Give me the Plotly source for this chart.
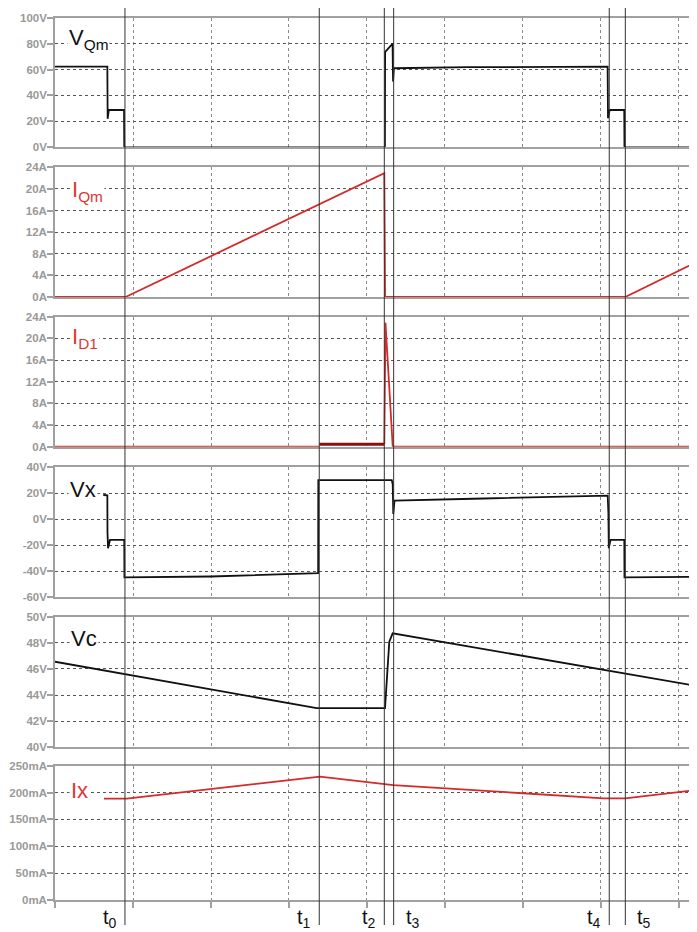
import plotly.graph_objects as go

# The page body has an 8px margin, so the figure is drawn 8px right/down.
OFF = 8
W, H = 697 - OFF, 932 - OFF
ML = 55 - OFF  # left margin in px (figure coords)

# ---------------- data (time in grid divisions) ----------------
X_RANGE = [0, 8.231]

MARK_T = [0.897, 3.388, 4.222, 4.342, 7.106, 7.312]
MARK_LABELS = ["t<sub>0</sub>", "t<sub>1</sub>", "t<sub>2</sub>",
               "t<sub>3</sub>", "t<sub>4</sub>", "t<sub>5</sub>"]
MARK_SIDE = ["left", "left", "left", "right", "left", "right"]

VQM_T = [0, 0.671, 0.675, 0.690, 0.885, 0.888, 4.230, 4.232, 4.322, 4.328,
         4.334, 4.345, 5.30, 7.085, 7.090, 7.112, 7.298, 7.301, 8.231]
VQM_V = [62.2, 62.2, 22.0, 28.8, 28.8, 0, 0, 73.5, 79.5, 79.5,
         50.7, 61.0, 61.8, 62.2, 22.5, 28.8, 28.8, 0, 0]

IQM_T = [0, 0.905, 4.222, 4.232, 7.311, 8.231]
IQM_A = [0, 0, 22.9, 0, 0, 6.5]

ID1_T = [0, 3.388, None, 4.222, 4.237, 4.330, 4.340, 8.231]
ID1_A = [0, 0, None, 0.45, 22.9, 0, 0, 0]
ID1_COND_T = [3.388, 4.222]   # conduction interval t1..t2
ID1_COND_A = [0.45, 0.45]

VX_T = [0.619, 0.671, 0.673, 0.680, 0.705, 0.888, 0.890, 2.0, 3.374, 3.376,
        4.317, 4.330, 4.337, 4.353, 5.5, 7.086, 7.095, 7.100, 7.122, 7.299,
        7.301, 8.231]
VX_V = [18.7, 18.5, -10.0, -22.3, -15.9, -15.9, -44.6, -44.0, -41.5, 30.2,
        30.2, 27.0, 4.0, 14.3, 16.0, 18.2, 5.0, -22.3, -15.9, -15.9,
        -44.6, -44.3]

VC_T = [0, 3.355, 4.231, 4.286, 4.329, 7.086, 8.231]
VC_V = [46.55, 43.0, 43.0, 48.09, 48.73, 45.87, 44.69]

IX_T = [0.628, 0.919, 3.397, 4.222, 4.337, 6.0, 7.03, 7.311, 8.231]
IX_MA = [188.6, 188.6, 229.6, 215.4, 214.0, 198.7, 189.2, 189.2, 204.8]

# tick values / labels per panel
VQM_TICKS = [0, 20, 40, 60, 80, 100]
VQM_TICKTEXT = ["0V", "20V", "40V", "60V", "80V", "100V"]
I_TICKS = [0, 4, 8, 12, 16, 20, 24]
I_TICKTEXT = ["0A", "4A", "8A", "12A", "16A", "20A", "24A"]
VX_TICKS = [-60, -40, -20, 0, 20, 40]
VX_TICKTEXT = ["-60V", "-40V", "-20V", "0V", "20V", "40V"]
VC_TICKS = [40, 42, 44, 46, 48, 50]
VC_TICKTEXT = ["40V", "42V", "44V", "46V", "48V", "50V"]
IX_TICKS = [0, 50, 100, 150, 200, 250]
IX_TICKTEXT = ["0mA", "50mA", "100mA", "150mA", "200mA", "250mA"]

# ---------------- styles ----------------
BLACK = "#111111"
RED = "#d42a2a"
DARKRED = "#8a1010"
LABEL_RED = "#e03535"
FRAME = "#a0a0a0"
HGRID = "#555555"
VGRID = "#8a8a8a"
TICKCOL = "#999999"
FONT = "Liberation Sans"

# panel pixel extents (top, bottom) in reference-image pixels
PANELS = [
    dict(top=17.7, bot=147.3, rng=[0, 100], tv=VQM_TICKS, tt=VQM_TICKTEXT,
         label="V<sub>Qm</sub>", lcol=BLACK, lx=67, ly=38.5),
    dict(top=167.3, bot=297.0, rng=[0, 24], tv=I_TICKS, tt=I_TICKTEXT,
         label="I<sub>Qm</sub>", lcol=LABEL_RED, lx=70, ly=190.5),
    dict(top=316.7, bot=446.7, rng=[0, 24], tv=I_TICKS, tt=I_TICKTEXT,
         label="I<sub>D1</sub>", lcol=LABEL_RED, lx=70, ly=337.5),
    dict(top=467.3, bot=597.3, rng=[-60, 40], tv=VX_TICKS, tt=VX_TICKTEXT,
         label="Vx", lcol=BLACK, lx=68, ly=489),
    dict(top=616.7, bot=747.3, rng=[40, 50], tv=VC_TICKS, tt=VC_TICKTEXT,
         label="Vc", lcol=BLACK, lx=69, ly=638),
    dict(top=765.7, bot=900.0, rng=[0, 250], tv=IX_TICKS, tt=IX_TICKTEXT,
         label="Ix", lcol=LABEL_RED, lx=69, ly=790),
]

def py(px):
    """reference-image y pixel -> paper y"""
    return 1 - (px - OFF) / H

def pxx(px):
    """reference-image x pixel -> paper x"""
    return (px - OFF - ML) / (W - ML)

fig = go.Figure()

def add(xs, ys, row, color, width=1.8):
    sfx = "" if row == 1 else str(row)
    fig.add_trace(go.Scatter(x=xs, y=ys, mode="lines",
                             line=dict(color=color, width=width),
                             xaxis="x" + sfx, yaxis="y" + sfx,
                             hoverinfo="skip", showlegend=False,
                             connectgaps=False))

add(VQM_T, VQM_V, 1, BLACK)
add(IQM_T, IQM_A, 2, RED)
add(ID1_T, ID1_A, 3, RED)
add(ID1_COND_T, ID1_COND_A, 3, DARKRED, 3)
add(VX_T, VX_V, 4, BLACK)
add(VC_T, VC_V, 5, BLACK)
add(IX_T, IX_MA, 6, RED)

layout = dict(width=W, height=H,
              margin=dict(l=ML, r=0, t=0, b=0, pad=0, autoexpand=False),
              paper_bgcolor="white", plot_bgcolor="white", showlegend=False)

for i, p in enumerate(PANELS, start=1):
    sfx = "" if i == 1 else str(i)
    last = (i == len(PANELS))
    ax = dict(
        domain=[0, 1], anchor="y" + sfx, range=X_RANGE, automargin=False,
        showline=True, mirror=True, linecolor=FRAME, linewidth=1.5,
        showgrid=True, gridcolor=VGRID, griddash="dot", gridwidth=1,
        tick0=0, dtick=1, zeroline=False, showticklabels=False,
        ticks="outside" if last else "", ticklen=6, tickcolor=FRAME,
        tickwidth=1.5,
    )
    if i > 1:
        ax["matches"] = "x"
    layout["xaxis" + sfx] = ax
    layout["yaxis" + sfx] = dict(
        domain=[py(p["bot"]), py(p["top"])], anchor="x" + sfx,
        range=p["rng"], tickvals=p["tv"], ticktext=p["tt"], automargin=False,
        showline=True, linecolor=FRAME, linewidth=1.5, mirror=False,
        showgrid=True, gridcolor=HGRID, griddash="dot", gridwidth=1,
        zeroline=False, ticks="outside", ticklen=6, tickcolor=FRAME,
        tickwidth=1.5, ticklabelstandoff=-2,
        tickfont=dict(family=FONT, size=11.5, color=TICKCOL, weight="bold"),
    )

fig.update_layout(**layout)

# vertical time-marker lines spanning all panels
for t in MARK_T:
    fig.add_shape(type="line", xref="x6", yref="paper", x0=t, x1=t,
                  y0=py(925), y1=py(4), line=dict(color="#333333", width=1),
                  layer="above")

# time marker labels
for t, lab, side in zip(MARK_T, MARK_LABELS, MARK_SIDE):
    fig.add_annotation(x=t, xref="x6", y=py(918), yref="paper", text=lab,
                       showarrow=False,
                       xanchor="right" if side == "left" else "left",
                       xshift=-6 if side == "left" else 10,
                       yanchor="middle",
                       font=dict(family=FONT, size=20, color="#111111"))

# panel signal labels
for p in PANELS:
    fig.add_annotation(x=pxx(p["lx"]), xref="paper", y=py(p["ly"]), yref="paper",
                       text=p["label"], showarrow=False, xanchor="left",
                       yanchor="middle", bgcolor="white",
                       font=dict(family=FONT, size=22, color=p["lcol"]))

fig.write_html("out.html")
